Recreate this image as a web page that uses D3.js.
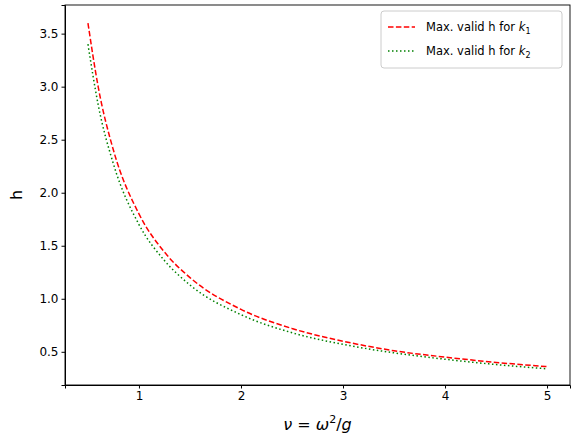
<!DOCTYPE html>
<html><head><meta charset="utf-8">
<script src="https://cdn.jsdelivr.net/npm/d3@7"></script>
<style>body{margin:0;background:#fff}text{font-family:"DejaVu Sans",sans-serif}</style>
</head><body><svg id="c" width="579" height="444"></svg>
<script>
const nu = [0.5,0.6,0.75,1,1.25,1.5,2,2.5,3,3.5,4,4.5,5];
const hK1 = [3.6,3.0,2.4,1.8,1.44,1.2,0.9,0.72,0.6,0.51,0.45,0.40,0.36];
const hK2 = [3.4,2.83,2.27,1.7,1.36,1.13,0.85,0.68,0.57,0.49,0.43,0.38,0.34];
const xTicks = [1,2,3,4,5];
const yTicks = [0.5,1.0,1.5,2.0,2.5,3.0,3.5];

const svg = d3.select("#c");
const L=65,R=570,T=5,B=385;
const x = d3.scaleLinear().domain([0.275,5.225]).range([L,R]);
const y = d3.scaleLinear().domain([0.187,3.77]).range([B,T]);

svg.append("g").attr("transform",`translate(0,${B})`)
  .call(d3.axisBottom(x).tickValues(xTicks).tickFormat(d3.format("d")).tickSizeOuter(0).tickSize(3.5))
  .call(g=>g.selectAll("text").attr("font-size",12).attr("fill","#000"));
svg.append("g").attr("transform",`translate(${L},0)`)
  .call(d3.axisLeft(y).tickValues(yTicks).tickFormat(d3.format(".1f")).tickSizeOuter(0).tickSize(3.5))
  .call(g=>g.selectAll("text").attr("font-size",12).attr("fill","#000"));
svg.append("rect").attr("x",L).attr("y",T).attr("width",R-L).attr("height",B-T)
  .attr("fill","none").attr("stroke","#000").attr("stroke-width",0.9);

const line = d3.line().x(d=>x(d[0])).y(d=>y(d[1])).curve(d3.curveMonotoneX);
svg.append("path").datum(nu.map((v,i)=>[v,hK1[i]])).attr("d",line)
  .attr("fill","none").attr("stroke","#ff0000").attr("stroke-width",1.5).attr("stroke-dasharray","5.5,2.4");
svg.append("path").datum(nu.map((v,i)=>[v,hK2[i]])).attr("d",line)
  .attr("fill","none").attr("stroke","#008000").attr("stroke-width",1.5).attr("stroke-dasharray","1.5,2.5");

svg.append("text").attr("x",17).attr("y",(T+B)/2).attr("transform",`rotate(-90,17,${(T+B)/2})`)
  .attr("text-anchor","middle").attr("dominant-baseline","middle").attr("font-size",16).text("h");
const xl = svg.append("text").attr("x",(L+R)/2).attr("y",430).attr("text-anchor","middle").attr("font-size",16);
xl.append("tspan").attr("font-style","italic").text("ν");
xl.append("tspan").text(" = ");
xl.append("tspan").attr("font-style","italic").text("ω");
xl.append("tspan").attr("font-size",11).attr("dy",-7).text("2");
xl.append("tspan").attr("dy",7).text("/");
xl.append("tspan").attr("font-style","italic").text("g");

const lg = svg.append("g");
lg.append("rect").attr("x",381).attr("y",11).attr("width",181).attr("height",57).attr("rx",3)
  .attr("fill","#fff").attr("stroke","#ccc");
[["#ff0000","5.5,2.4","1"],["#008000","1.5,2.5","2"]].forEach((e,i)=>{
  const yy=27+i*24;
  lg.append("line").attr("x1",388).attr("x2",415).attr("y1",yy).attr("y2",yy)
    .attr("stroke",e[0]).attr("stroke-width",1.5).attr("stroke-dasharray",e[1]);
  const t=lg.append("text").attr("x",426).attr("y",yy+4).attr("font-size",11.5);
  t.append("tspan").text("Max. valid h for ");
  t.append("tspan").attr("font-style","italic").text("k");
  t.append("tspan").attr("font-size",8).attr("dy",3).text(e[2]);
});
</script></body></html>
